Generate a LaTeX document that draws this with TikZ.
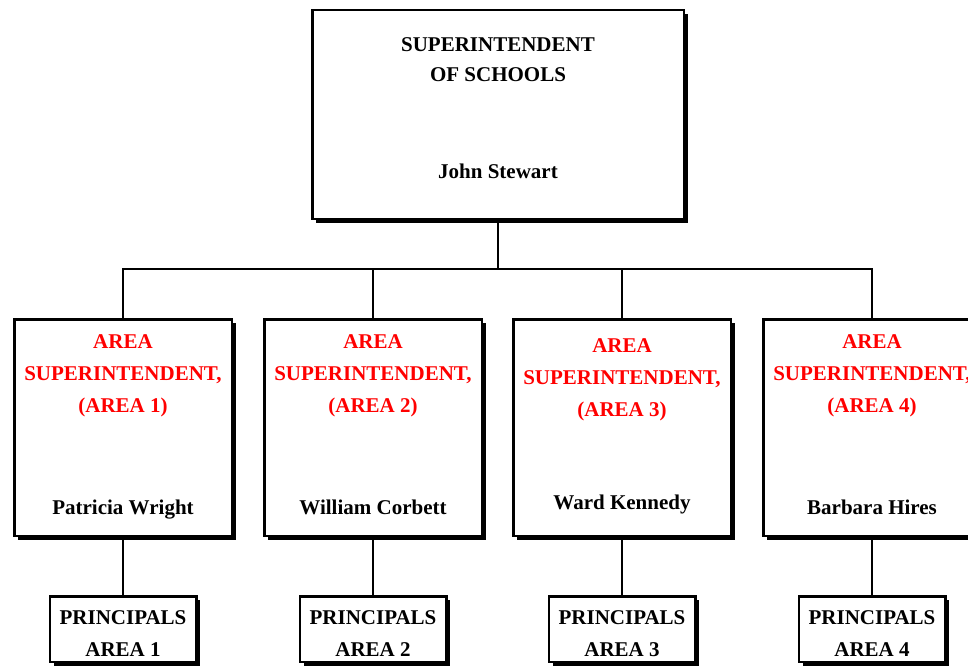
\documentclass[tikz,border=0pt]{standalone}
\usepackage{fontspec}
\setmainfont{Liberation Serif}
\usepackage{tikz}
\usetikzlibrary{shadows}

\tikzset{
	box/.style={draw, line width=2.5pt, fill=white, drop shadow={fill=black, opacity=1, shadow xshift=4pt, shadow yshift=-4pt}},
	chiefbox/.style={box, minimum width=371.5pt, minimum height=208.5pt},
	areabox/.style={box, minimum width=217.5pt, minimum height=216.5pt},
	princbox/.style={box, minimum width=146.5pt, minimum height=65.5pt},
	wire/.style={line width=2pt},
	heading/.style={font=\fontsize{21}{32}\selectfont\bfseries, align=center, inner sep=0pt},
	redheading/.style={heading, text=red},
	chieftext/.style={font=\fontsize{21}{30}\selectfont\bfseries, align=center, inner sep=0pt},
}

\begin{document}
\begin{tikzpicture}[x=1pt, y=-1pt]
		\fill[white] (0, 0) rectangle (968, 666);
		\useasboundingbox (0, 0) rectangle (968, 666);
		\clip (0, 0) rectangle (968, 666);
		% Boxes:
		\node[chiefbox] (sup) at (498, 114.5){};
		\node[areabox] (a1) at (123, 427.5){};
		\node[areabox] (a2) at (373, 427.5){};
		\node[areabox] (a3) at (622, 427.5){};
		\node[areabox] (a4) at (872, 427.5){};
		\node[princbox] (p1) at (123, 629){};
		\node[princbox] (p2) at (373, 629){};
		\node[princbox] (p3) at (622, 629){};
		\node[princbox] (p4) at (872, 629){};
		% Texts:
		\node[chieftext, anchor=north, yshift=-28pt] (supt) at (sup.north){SUPERINTENDENT\\OF SCHOOLS};
		\node[heading, anchor=base, yshift=42pt] (supn) at (sup.south){John Stewart};
		\node[redheading, anchor=north, yshift=-16pt] (a1t) at (a1.north){AREA\\SUPERINTENDENT,\\(AREA 1)};
		\node[redheading, anchor=north, yshift=-16pt] (a2t) at (a2.north){AREA\\SUPERINTENDENT,\\(AREA 2)};
		\node[redheading, anchor=north, yshift=-20pt] (a3t) at (a3.north){AREA\\SUPERINTENDENT,\\(AREA 3)};
		\node[redheading, anchor=north, yshift=-16pt] (a4t) at (a4.north){AREA\\SUPERINTENDENT,\\(AREA 4)};
		\node[heading, anchor=base, yshift=23pt] (a1n) at (a1.south){Patricia Wright};
		\node[heading, anchor=base, yshift=23pt] (a2n) at (a2.south){William Corbett};
		\node[heading, anchor=base, yshift=28pt] (a3n) at (a3.south){Ward Kennedy};
		\node[heading, anchor=base, yshift=23pt] (a4n) at (a4.south){Barbara Hires};
		\node[heading, anchor=north, yshift=-15.5pt] (p1t) at (p1.north){PRINCIPALS\\AREA 1};
		\node[heading, anchor=north, yshift=-15.5pt] (p2t) at (p2.north){PRINCIPALS\\AREA 2};
		\node[heading, anchor=north, yshift=-15.5pt] (p3t) at (p3.north){PRINCIPALS\\AREA 3};
		\node[heading, anchor=north, yshift=-15.5pt] (p4t) at (p4.north){PRINCIPALS\\AREA 4};
		% Wires:
		\coordinate (bus) at (sup.south |- 0, 269);
		\draw[wire] (sup.south) -- (bus);
		\draw[wire] (a1.north) |- (bus) -| (a4.north);
		\draw[wire] (a2.north) -- (a2.north |- bus);
		\draw[wire] (a3.north) -- (a3.north |- bus);
		\draw[wire] (a1.south) -- (p1.north);
		\draw[wire] (a2.south) -- (p2.north);
		\draw[wire] (a3.south) -- (p3.north);
		\draw[wire] (a4.south) -- (p4.north);
	\end{tikzpicture}
\end{document}
